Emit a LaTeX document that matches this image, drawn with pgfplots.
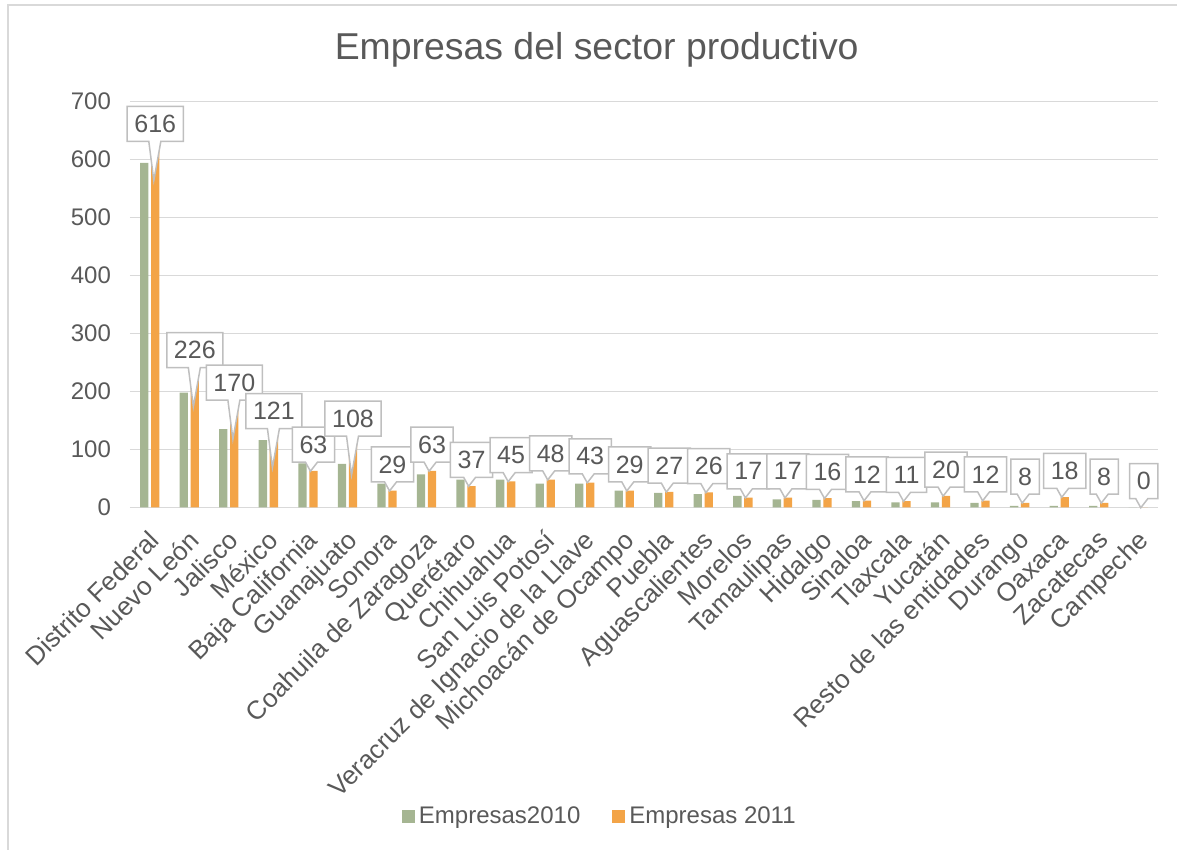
\documentclass[border=0pt]{standalone}
\usepackage{fontspec}
\setmainfont{Liberation Sans}
\usepackage{pgfplots}
\pgfplotsset{compat=1.18}
\usetikzlibrary{shapes.callouts}
\definecolor{barg}{HTML}{A5B592}
\definecolor{baro}{HTML}{F3A447}
\definecolor{txt}{HTML}{595959}
\definecolor{grid}{HTML}{D9D9D9}
\definecolor{cbord}{HTML}{BFBFBF}
\begin{document}
\begin{tikzpicture}
\useasboundingbox (0,0) rectangle (588.5pt,425pt);
\draw[grid, line width=0.75pt] (4pt,-2pt) -- (4pt,422.5pt) -- (592pt,422.5pt);
\begin{axis}[
  at={(65pt,171.25pt)}, anchor=south west,
  scale only axis, width=514pt, height=203pt,
  ybar=1.35pt, bar width=4.15pt,
  xmin=-0.5, xmax=25.5, ymin=0, ymax=700,
  ytick={0,100,...,700},
  xtick={0,...,25},
  xticklabels={Distrito Federal,Nuevo León,Jalisco,México,Baja California,Guanajuato,Sonora,Coahuila de Zaragoza,Querétaro,Chihuahua,San Luis Potosí,Veracruz de Ignacio de la Llave,Michoacán de Ocampo,Puebla,Aguascalientes,Morelos,Tamaulipas,Hidalgo,Sinaloa,Tlaxcala,Yucatán,Resto de las entidades,Durango,Oaxaca,Zacatecas,Campeche},
  /pgf/number format/assume math mode=true,
  axis lines*=left,
  x axis line style={draw=grid, line width=0.75pt},
  y axis line style={draw=none},
  major tick length=0pt,
  ymajorgrids, grid style={draw=grid, line width=0.75pt},
  tick label style={font=\fontsize{12}{14}\selectfont, text=txt},
  yticklabel style={xshift=-6pt},
  xticklabel style={font=\fontsize{13}{15}\selectfont, xshift=-1pt, yshift=-10.5pt, rotate=45, anchor=north east, inner sep=0pt},
  clip=false,
  title={Empresas del sector productivo},
  title style={at={(0.454,1.075)}, anchor=base, font=\fontsize{18.7}{21}\selectfont, text=txt},
  legend columns=2,
  legend style={at={(0.458,-0.762)}, anchor=center, draw=none, fill=none,
    font=\fontsize{12}{14}\selectfont, text=txt,
    /tikz/every even column/.append style={column sep=14pt},
    legend cell align=left},
]
\addplot[fill=barg, draw=none, legend image code/.code={\fill[barg] (0pt,-3.25pt) rectangle (6.5pt,3.25pt);}] coordinates {
(0,594) (1,198) (2,135) (3,116) (4,76) (5,75) (6,41) (7,57) (8,48) (9,48) (10,41) (11,41) (12,29) (13,25) (14,23) (15,20) (16,14) (17,13) (18,11) (19,9) (20,9) (21,8) (22,3) (23,3) (24,3) (25,0)};
\addlegendentry{Empresas2010}
\addplot[fill=baro, draw=none, legend image code/.code={\fill[baro] (0pt,-3.25pt) rectangle (6.5pt,3.25pt);},
  visualization depends on={y \as \rawy},
  nodes near coords,
  every node near coord/.append style={rectangle callout, draw=cbord, line width=0.75pt, fill=white,
    font=\fontsize{12.5}{14}\selectfont, text=txt, anchor=south, yshift=4pt,
    inner xsep=3.6pt, inner ysep=0pt, minimum height=17.5pt,
    callout relative pointer={(-0.5pt,{((\rawy>100) ? -19.5 : -4.5)*1pt})}, callout pointer width=6pt}
] coordinates {
(0,616) (1,226) (2,170) (3,121) (4,63) (5,108) (6,29) (7,63) (8,37) (9,45) (10,48) (11,43) (12,29) (13,27) (14,26) (15,17) (16,17) (17,16) (18,12) (19,11) (20,20) (21,12) (22,8) (23,18) (24,8) (25,0)};
\addlegendentry{Empresas 2011}
\end{axis}
\end{tikzpicture}
\end{document}
